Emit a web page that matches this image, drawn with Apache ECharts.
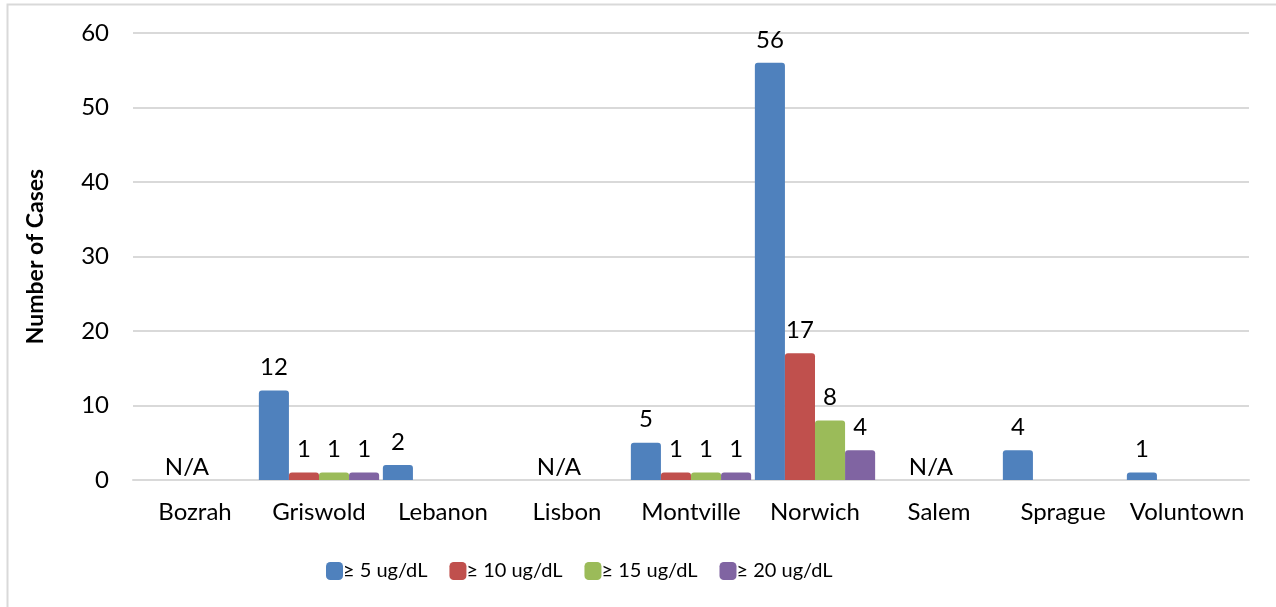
<!DOCTYPE html>
<html><head><meta charset="utf-8">
<script src="https://cdn.jsdelivr.net/npm/echarts@6/dist/echarts.min.js"></script>
<style>html,body{margin:0;padding:0;background:#fff}#c{width:1276px;height:607px}</style>
</head><body><div id="c"></div>
<script>
const categories = ['Bozrah','Griswold','Lebanon','Lisbon','Montville','Norwich','Salem','Sprague','Voluntown'];
const seriesNames = ['≥ 5 ug/dL','≥ 10 ug/dL','≥ 15 ug/dL','≥ 20 ug/dL'];
const ge5  = ['N/A',12,2,'N/A',5,56,'N/A',4,1];
const ge10 = [null,1,null,null,1,17,null,null,null];
const ge15 = [null,1,null,null,1,8,null,null,null];
const ge20 = [null,1,null,null,1,4,null,null,null];
const colors = ['#4f81bd','#c0504d','#9bbb59','#8064a2'];
const yTicks = [0,10,20,30,40,50,60];

const FONT = 'Lato, "Open Sans", sans-serif';
function toData(arr){
  return arr.map(v => {
    if (v === 'N/A') return {value:0, itemStyle:{color:'rgba(0,0,0,0)'}, label:{show:true, formatter:'N/A', distance:1, offset:[37,0]}};
    return v;
  });
}
const all = [ge5,ge10,ge15,ge20];
const series = all.map((arr,i)=>({
  name: seriesNames[i], type:'bar', data: toData(arr),
  barGap:'0%', barCategoryGap:'3%',
  itemStyle:{color:colors[i], borderRadius:[3,3,0,0]},
  label:{show:true, position:'top', distance:11, color:'#000', fontFamily:FONT, fontSize:24,
    formatter: p => (p.value===null||p.value===undefined) ? '' : (p.data && p.data.label && p.data.label.formatter ? p.data.label.formatter : String(p.value))},
  emphasis:{disabled:true}
}));

const chart = echarts.init(document.getElementById('c'), null, {renderer:'canvas'});
chart.setOption({
  animation:false,
  textStyle:{fontFamily:FONT},
  graphic:[{type:'rect', shape:{x:7.5,y:4.5,width:1300,height:700}, style:{fill:null, stroke:'#d9d9d9', lineWidth:2}, silent:true}],
  grid:{left:133, right:27, top:33, bottom:127, containLabel:false},
  legend:{data:seriesNames, left:321, top:556, itemWidth:17, itemHeight:18, itemGap:22,
    icon:'roundRect',
    textStyle:{fontFamily:FONT, fontSize:20, color:'#000', padding:[0,0,0,-5]}},
  xAxis:{type:'category', data:categories,
    axisLine:{lineStyle:{color:'#d9d9d9', width:2}}, axisTick:{show:false},
    axisLabel:{color:'#000', fontFamily:FONT, fontSize:24, margin:20, interval:0}},
  yAxis:{type:'value', min:yTicks[0], max:yTicks[yTicks.length-1], interval:10,
    name:'Number of Cases', nameLocation:'middle', nameGap:86, nameRotate:90,
    nameTextStyle:{fontFamily:FONT, fontSize:23, fontWeight:'bold', color:'#000'},
    axisLine:{show:false}, axisTick:{show:false},
    axisLabel:{color:'#000', fontFamily:FONT, fontSize:24, margin:24},
    splitLine:{lineStyle:{color:'#d9d9d9', width:2}}},
  series: series
});
</script></body></html>
